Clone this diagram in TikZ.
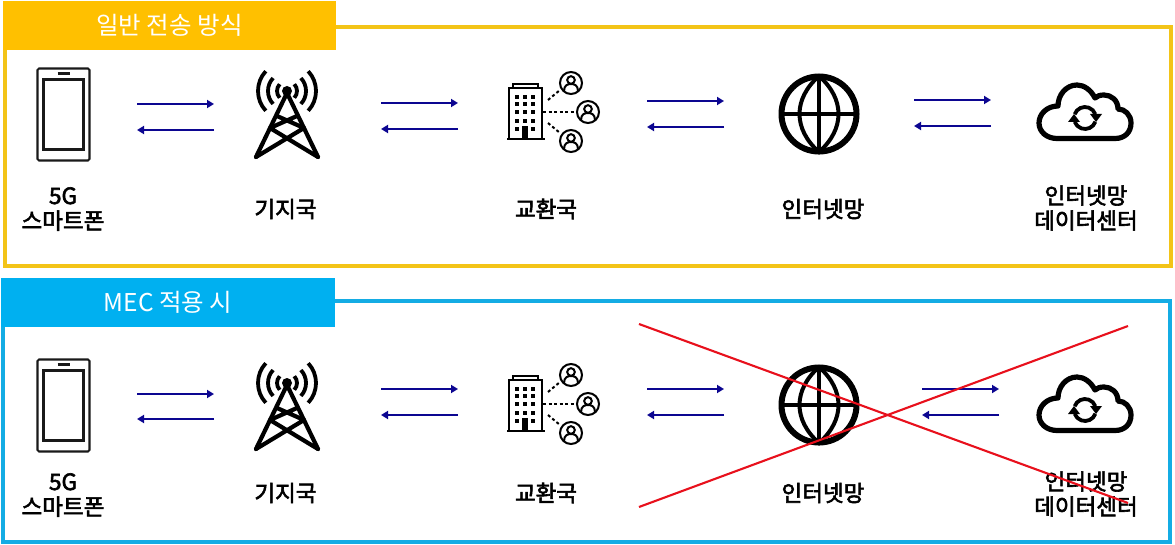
\documentclass[tikz,border=0pt]{standalone}
\usepackage{fontspec}
\setmainfont{Noto Sans CJK KR}
\newfontfamily\labelfont[FakeBold=2.6]{Noto Sans CJK KR}
\usetikzlibrary{arrows.meta}
\definecolor{tabyellow}{RGB}{255,192,0}
\definecolor{tabblue}{RGB}{0,176,240}
\definecolor{frameyellow}{RGB}{243,196,24}
\definecolor{frameblue}{RGB}{20,172,228}
\definecolor{linknavy}{RGB}{12,6,145}
\definecolor{crossred}{RGB}{232,16,28}
\begin{document}
\begin{tikzpicture}[x=1pt,y=-1pt]
	\tikzset{frame/.style = {line width=3.5pt}}
	\tikzset{tab/.style = {anchor=center,text=white,font=\fontsize{24.5}{28}\selectfont}}
	\tikzset{label/.style = {align=center,text=black,font=\labelfont\fontsize{22.5}{25}\selectfont}}
	\tikzset{link/.style = {line width=1.9pt,linknavy,-{Triangle[length=7pt,width=8pt]}}}
	\tikzset{cross/.style = {line width=2.1pt,crossred}}
	\tikzset{
		phone/.pic = {
			\draw[line width=2.1pt,rounded corners=1.5pt,black!90] (-26,-46) rectangle (26,46);
			\draw[line width=2.1pt,black!90] (-20,-35) rectangle (20,35);
			\draw[line width=2.1pt,black!90] (-6,-41) -- (6,-41);
		},
		tower/.pic = {
			\fill (0,-23) circle[radius=5pt];
			\foreach \r in {10,19,29} {
				\draw[line width=3.8pt] (0,-23) ++(43:\r pt) arc[start angle=43,end angle=-43,radius=\r pt];
				\draw[line width=3.8pt] (0,-23) ++(137:\r pt) arc[start angle=137,end angle=223,radius=\r pt];
			}
			\draw[line width=4.2pt,line cap=round,line join=round] (-31,43) -- (0,-21) -- (31,43);
			\draw[line width=4.2pt,line cap=round] (-10,2) -- (17,14) (10,2) -- (-17,14) (-17,14) -- (31,43) (17,14) -- (-31,43);
		},
		office/.pic = {
			\draw[line width=2pt] (-44,27) -- (-44,-24) -- (-11,-24) -- (-11,27);
			\draw[line width=2pt] (-40,-24) -- (-40,-28) -- (-15,-28) -- (-15,-24);
			\draw[line width=2.4pt] (-46,27) -- (-8,27);
			\foreach \y in {-15,-8,0,9} \foreach \x in {-36,-28,-20} \fill (\x-2,\y-2) rectangle (\x+2,\y+2);
			\foreach \x in {-36,-20} \fill (\x-2,15) rectangle (\x+2,19);
			\fill (-31,14) rectangle (-25,27);
			\draw[line width=2pt,dash pattern=on 3pt off 2.5pt] (-5,-12) -- (7,-22);
			\draw[line width=2pt,dash pattern=on 3pt off 2.5pt] (-10,0) -- (23,0);
			\draw[line width=2pt,dash pattern=on 3pt off 2.5pt] (-5,11) -- (7,21);
			\foreach \x/\y in {18/-29,35/0,18/29} {
				\draw[line width=2pt] (\x,\y) circle[radius=11pt];
				\draw[line width=2pt] (\x,\y-3) circle[radius=3.8pt];
				\draw[line width=2pt] (\x-7,\y+8) .. controls (\x-7,\y+2) and (\x-3,\y+1) .. (\x,\y+1) .. controls (\x+3,\y+1) and (\x+7,\y+2) .. (\x+7,\y+8);
			}
		},
		globe/.pic = {
			\draw[line width=6pt] (0,0) circle[radius=37.5pt];
			\draw[line width=4pt] (0,-38) .. controls (-26,-15) and (-26,15) .. (0,38) .. controls (26,15) and (26,-15) .. (0,-38);
			\draw[line width=4pt] (0,-38) -- (0,38) (-38,0) -- (38,0);
		},
		cloud/.pic = {
			\draw[line width=5.2pt,line join=round] (-28,26.5) -- (30,26.5) .. controls (40,26.5) and (46,20) .. (46,11) .. controls (46,3) and (40,-3) .. (33,-3) .. controls (33,-12) and (26,-17) .. (19,-17) .. controls (15,-17) and (12,-16) .. (10,-14) .. controls (6,-22) and (-1,-27) .. (-8,-27) .. controls (-19,-27) and (-27,-17) .. (-27,-6) .. controls (-38,-6) and (-46,2) .. (-46,11) .. controls (-46,20) and (-38,26.5) .. (-28,26.5) -- cycle;
			\draw[line width=3.8pt] (0,6) ++(160:11pt) arc[start angle=160,end angle=20,radius=11pt];
			\draw[line width=3.8pt] (0,6) ++(-20:11pt) arc[start angle=-20,end angle=-160,radius=11pt];
			\fill (5,2) -- (17,2) -- (11,10) -- cycle;
			\fill (-5,10) -- (-17,10) -- (-11,2) -- cycle;
		}
	}
	\useasboundingbox (0,0) rectangle (1175,545);
	\fill[white] (0,0) rectangle (1175,545);

	\draw[frame,frameyellow] (5,27) rectangle (1171,266);
	\node[fill=tabyellow,minimum width=333pt,minimum height=49pt,inner sep=0pt] (tabtop) at (169.5,25.5) {};
	\node[tab] (tabtoptext) at (169.5,25) {일반 전송 방식};
	\pic at (63.5,114.5) {phone};
	\pic at (287,114) {tower};
	\pic at (553,112) {office};
	\pic at (819,114) {globe};
	\pic at (1085,112) {cloud};
	\node[label] (phonetop) at (63,209) {5G\\스마트폰};
	\node[label] (towertop) at (285.5,209) {기지국};
	\node[label] (officetop) at (546,209) {교환국};
	\node[label] (webtop) at (823,209) {인터넷망};
	\node[label] (centertop) at (1086,208) {인터넷망\\데이터센터};
	\coordinate (ta1) at (137,104); \coordinate (tb1) at (214,104); \draw[link] (ta1) -- (tb1);
	\coordinate (tc1) at (214,130); \coordinate (td1) at (137,130); \draw[link] (tc1) -- (td1);
	\coordinate (ta2) at (381,103); \coordinate (tb2) at (458,103); \draw[link] (ta2) -- (tb2);
	\coordinate (tc2) at (458,129); \coordinate (td2) at (381,129); \draw[link] (tc2) -- (td2);
	\coordinate (ta3) at (647,101); \coordinate (tb3) at (724,101); \draw[link] (ta3) -- (tb3);
	\coordinate (tc3) at (724,127); \coordinate (td3) at (647,127); \draw[link] (tc3) -- (td3);
	\coordinate (ta4) at (914,100); \coordinate (tb4) at (991,100); \draw[link] (ta4) -- (tb4);
	\coordinate (tc4) at (991,126); \coordinate (td4) at (914,126); \draw[link] (tc4) -- (td4);

	\draw[frame,frameblue] (3,301) rectangle (1170,542);
	\node[fill=tabblue,minimum width=334pt,minimum height=49pt,inner sep=0pt] (tabbot) at (168,302.5) {};
	\node[tab] (tabbottext) at (168,302) {MEC 적용 시};
	\pic at (63.5,405.5) {phone};
	\pic at (287,406) {tower};
	\pic at (553,404) {office};
	\pic at (819,405) {globe};
	\pic at (1085,404) {cloud};
	\node[label] (phonebot) at (63,495) {5G\\스마트폰};
	\node[label] (towerbot) at (285.5,493) {기지국};
	\node[label] (officebot) at (546,493) {교환국};
	\node[label] (webbot) at (823,493) {인터넷망};
	\node[label] (centerbot) at (1086,494) {인터넷망\\데이터센터};
	\coordinate (ba1) at (137,394); \coordinate (bb1) at (214,394); \draw[link] (ba1) -- (bb1);
	\coordinate (bc1) at (214,419); \coordinate (bd1) at (137,419); \draw[link] (bc1) -- (bd1);
	\coordinate (ba2) at (381,389); \coordinate (bb2) at (458,389); \draw[link] (ba2) -- (bb2);
	\coordinate (bc2) at (458,415); \coordinate (bd2) at (381,415); \draw[link] (bc2) -- (bd2);
	\coordinate (ba3) at (647,389); \coordinate (bb3) at (724,389); \draw[link] (ba3) -- (bb3);
	\coordinate (bc3) at (724,415); \coordinate (bd3) at (647,415); \draw[link] (bc3) -- (bd3);
	\coordinate (ba4) at (922,389); \coordinate (bb4) at (999,389); \draw[link] (ba4) -- (bb4);
	\coordinate (bc4) at (999,415); \coordinate (bd4) at (922,415); \draw[link] (bc4) -- (bd4);

	\coordinate (xa) at (639,324); \coordinate (xb) at (1128,503);
	\coordinate (xc) at (639,507); \coordinate (xd) at (1128,326);
	\draw[cross] (xa) -- (xb);
	\draw[cross] (xc) -- (xd);
\end{tikzpicture}
\end{document}
